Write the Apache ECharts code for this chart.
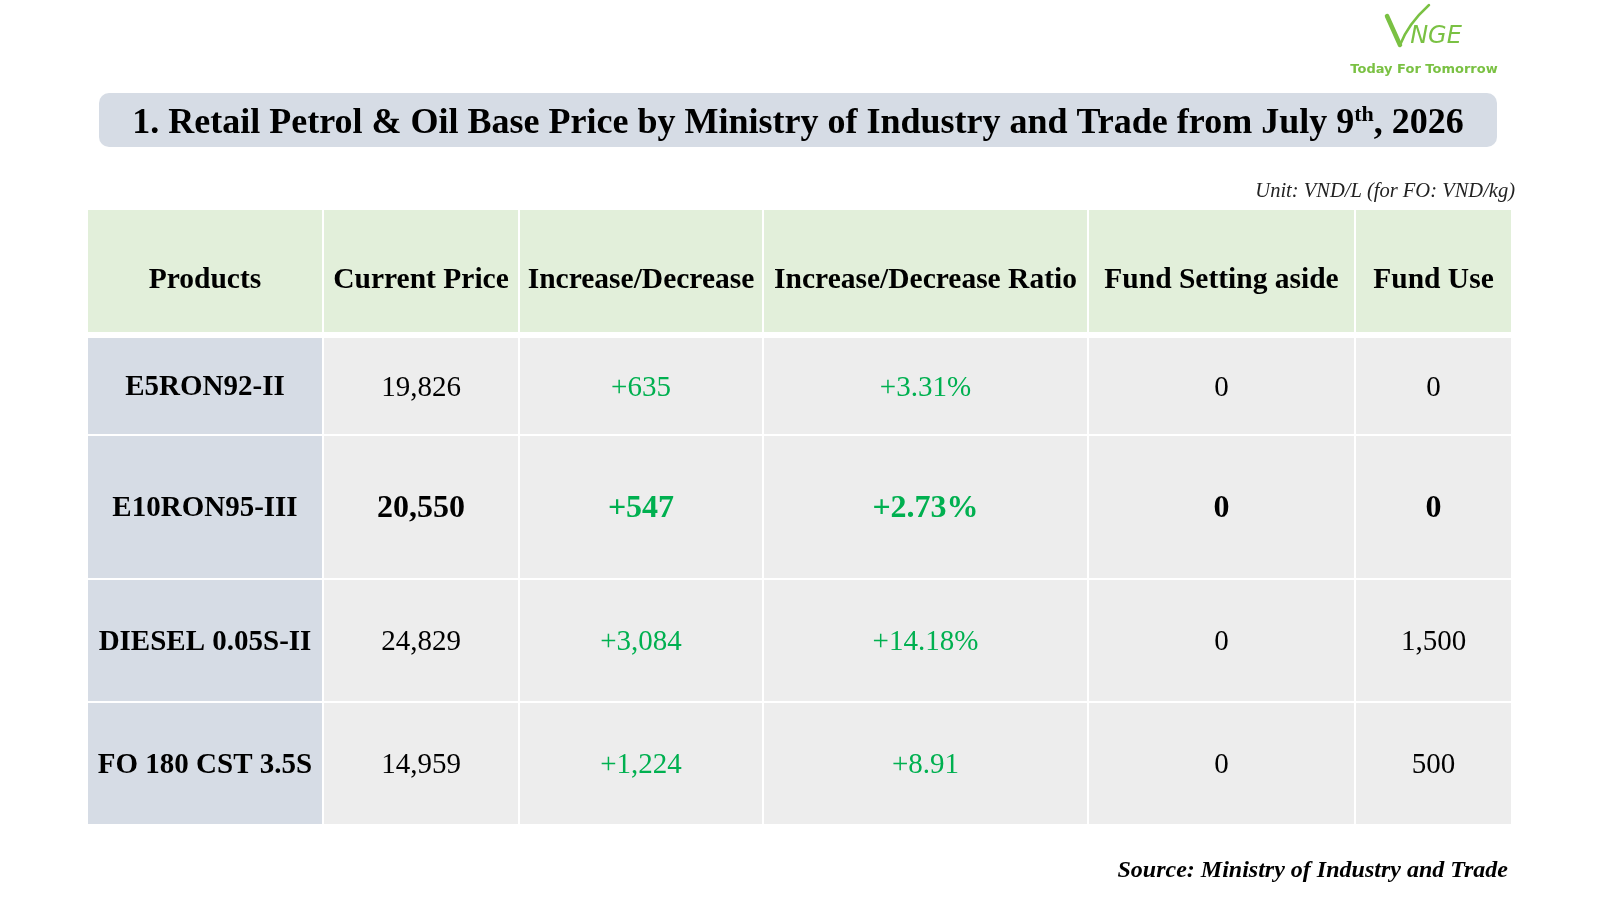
<!DOCTYPE html>
<html>
<head>
<meta charset="utf-8">
<title>Retail Petrol & Oil Base Price</title>
<script src="https://cdn.jsdelivr.net/npm/echarts/dist/echarts.min.js"></script>
<style>
  html, body { margin: 0; padding: 0; background: #fff; }
  #main { width: 1600px; height: 900px; }
</style>
</head>
<body>
<div id="main"></div>
<script>
// table content
var columns = ['Products', 'Current Price', 'Increase/Decrease', 'Increase/Decrease Ratio', 'Fund Setting aside', 'Fund Use'];
var products = ['E5RON92-II', 'E10RON95-III', 'DIESEL 0.05S-II', 'FO 180 CST 3.5S'];
var currentPrice = [19826, 20550, 24829, 14959];
var change = [635, 547, 3084, 1224];
var changeRatio = ['+3.31%', '+2.73%', '+14.18%', '+8.91'];
var fundSetAside = [0, 0, 0, 0];
var fundUse = [0, 0, 1500, 500];
var boldRow = 1;

// cell grid in table units (px from table top-left)
var colEdges = [0, 235, 431, 675, 1000, 1267, 1423];
var rowTop = [0, 128, 226, 370, 493];
var rowBottom = [122, 224, 368, 491, 614];

function fmt(v) {
  return v.toLocaleString('en-US');
}

var cells = [];
columns.forEach(function (name, c) {
  cells.push([c, 0, name]);
});
products.forEach(function (p, i) {
  var r = i + 1;
  cells.push([0, r, p]);
  cells.push([1, r, fmt(currentPrice[i])]);
  cells.push([2, r, '+' + fmt(change[i])]);
  cells.push([3, r, changeRatio[i]]);
  cells.push([4, r, fmt(fundSetAside[i])]);
  cells.push([5, r, fmt(fundUse[i])]);
});

function renderCell(params, api) {
  var c = api.value(0);
  var r = api.value(1);
  var x0 = colEdges[c] + (c > 0 ? 1 : 0);
  var x1 = colEdges[c + 1] - (c < columns.length - 1 ? 1 : 0);
  var p0 = api.coord([x0, rowTop[r]]);
  var p1 = api.coord([x1, rowBottom[r]]);
  var fill = '#ededed';
  if (r === 0) fill = '#e2efda';
  else if (c === 0) fill = '#d6dce5';

  var color = '#000';
  if (r > 0 && (c === 2 || c === 3)) color = '#00b050';
  var bold = r === 0 || c === 0 || r === boldRow + 1;
  var size = 29;
  if (r === 0) size = 29.5;
  else if (r === boldRow + 1 && c > 0) size = 32;

  return {
    type: 'group',
    children: [{
      type: 'rect',
      shape: { x: p0[0], y: p0[1], width: p1[0] - p0[0], height: p1[1] - p0[1] },
      style: { fill: fill }
    }, {
      type: 'text',
      x: (p0[0] + p1[0]) / 2,
      y: (p0[1] + p1[1]) / 2 + (r === 0 ? 9 : 2),
      style: {
        text: cells[params.dataIndex][2],
        fill: color,
        fontFamily: 'Liberation Serif',
        fontSize: size,
        fontWeight: bold ? 'bold' : 'normal',
        align: 'center',
        verticalAlign: 'middle'
      }
    }]
  };
}

var chart = echarts.init(document.getElementById('main'));

var option = {
  backgroundColor: '#fff',
  animation: false,
  grid: { left: 88, top: 210, right: 89, bottom: 76 },
  xAxis: { type: 'value', min: 0, max: 1423, show: false },
  yAxis: { type: 'value', min: 0, max: 614, inverse: true, show: false },
  series: [{
    type: 'custom',
    renderItem: renderCell,
    data: cells,
    encode: { x: 0, y: 1 }
  }],
  graphic: [
    // title bar
    {
      type: 'rect',
      shape: { x: 99, y: 93, width: 1398, height: 54, r: 10 },
      style: { fill: '#d6dce5' }
    },
    {
      type: 'text',
      x: 798,
      y: 124,
      style: {
        text: '{b|1. Retail Petrol & Oil Base Price by Ministry of Industry and Trade from July 9}{s|th}{b|, 2026}',
        align: 'center',
        verticalAlign: 'middle',
        rich: {
          b: { fontFamily: 'Liberation Serif', fontWeight: 'bold', fontSize: 36, fill: '#000', lineHeight: 40 },
          s: { fontFamily: 'Liberation Serif', fontWeight: 'bold', fontSize: 22, fill: '#000', lineHeight: 40, padding: [0, 0, 18, 0] }
        }
      }
    },
    {
      type: 'text',
      x: 1515,
      y: 192,
      style: {
        text: 'Unit: VND/L (for FO: VND/kg)',
        align: 'right',
        verticalAlign: 'middle',
        fontFamily: 'Liberation Serif',
        fontStyle: 'italic',
        fontSize: 20.5,
        fill: '#222'
      }
    },
    {
      type: 'text',
      x: 1508,
      y: 871,
      style: {
        text: 'Source: Ministry of Industry and Trade',
        align: 'right',
        verticalAlign: 'middle',
        fontFamily: 'Liberation Serif',
        fontStyle: 'italic',
        fontWeight: 'bold',
        fontSize: 24,
        fill: '#000'
      }
    },
    // logo
    {
      type: 'polyline',
      shape: { points: [[1387, 16], [1400, 45]] },
      style: { stroke: '#7ac143', lineWidth: 4.5, lineCap: 'round' }
    },
    {
      type: 'bezierCurve',
      shape: { x1: 1400, y1: 45, x2: 1429, y2: 5, cpx1: 1408, cpy1: 24 },
      style: { stroke: '#7ac143', lineWidth: 2.5, fill: null, lineCap: 'round' }
    },
    {
      type: 'text',
      x: 1436,
      y: 37,
      style: {
        text: 'NGE',
        align: 'center',
        verticalAlign: 'middle',
        fontFamily: 'DejaVu Sans',
        fontStyle: 'italic',
        fontSize: 24,
        fill: '#7ac143'
      }
    },
    {
      type: 'text',
      x: 1424,
      y: 70,
      style: {
        text: 'Today For Tomorrow',
        align: 'center',
        verticalAlign: 'middle',
        fontFamily: 'DejaVu Sans',
        fontWeight: 'bold',
        fontSize: 13,
        fill: '#7ac143'
      }
    }
  ]
};

chart.setOption(option);
</script>
</body>
</html>
